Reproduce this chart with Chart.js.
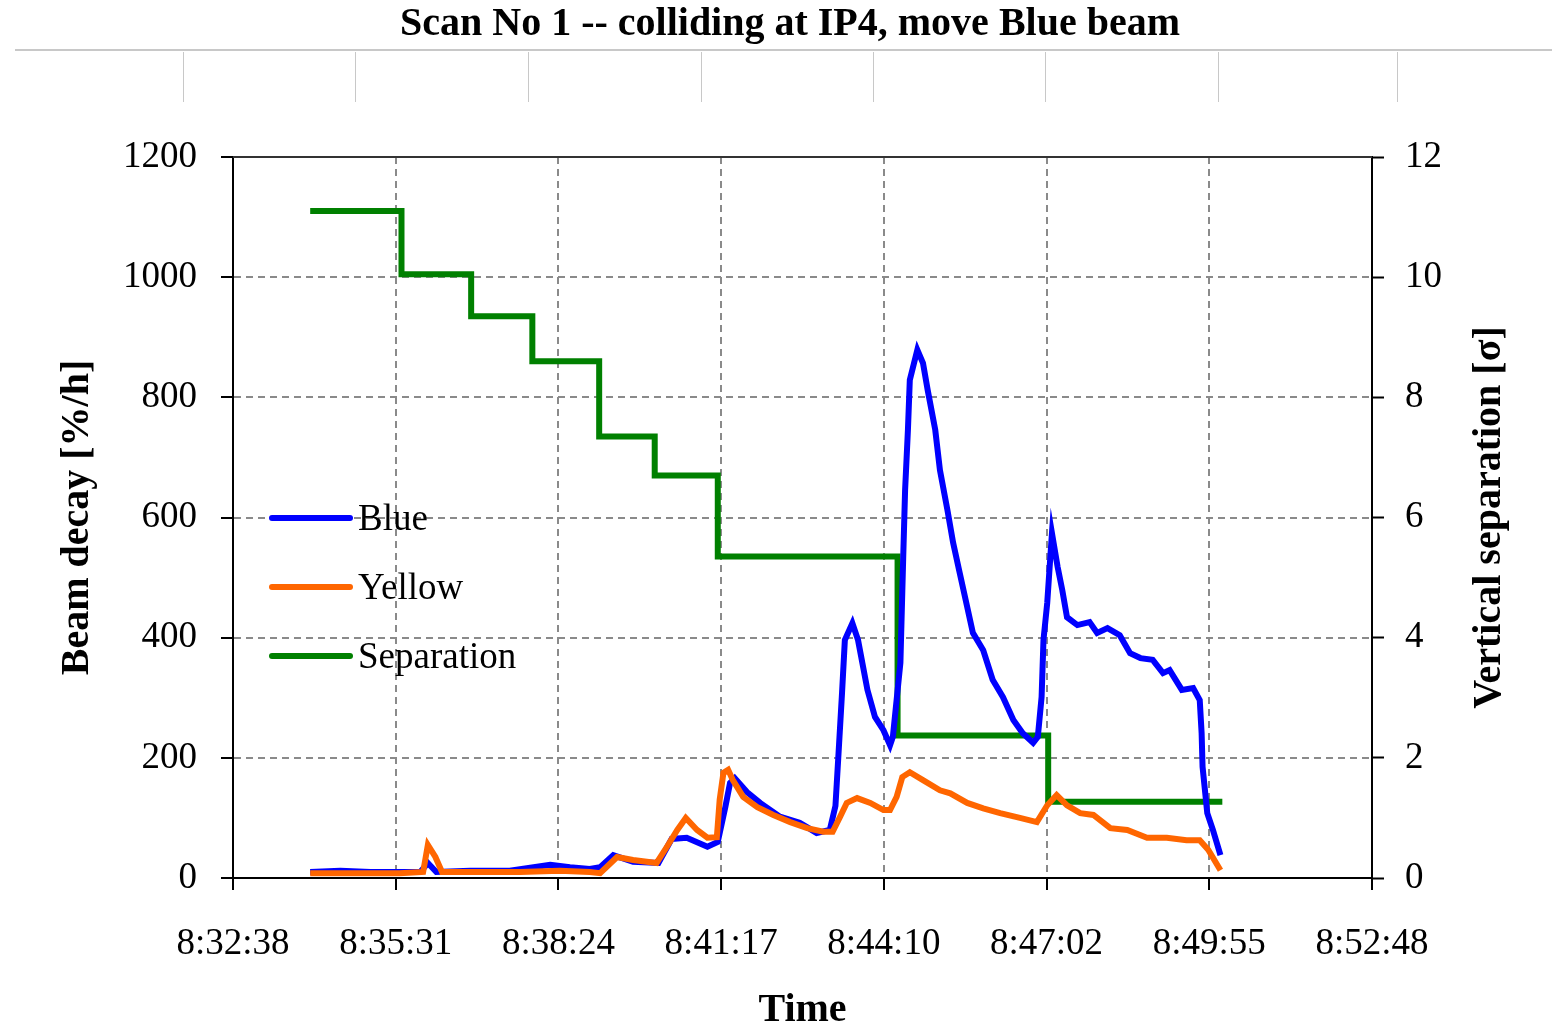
<!DOCTYPE html>
<html>
<head>
<meta charset="utf-8">
<title>Scan No 1 -- colliding at IP4, move Blue beam</title>
<script src="https://cdn.jsdelivr.net/npm/chart.js@4/dist/chart.umd.min.js"></script>
<style>
    html, body { margin: 0; padding: 0; background: #fff; }
    #wrap { width: 1552px; height: 1027px; }
</style>
</head>
<body>
<div id="wrap"><canvas id="scanChart" width="1552" height="1027"></canvas></div>
<script>
// time axis: seconds after 8:32:38
const timeSpan = 1210;
const timeLabels = ['8:32:38', '8:35:31', '8:38:24', '8:41:17', '8:44:10', '8:47:02', '8:49:55', '8:52:48'];

const blueTime = [82, 114, 146, 177, 199, 207, 216, 252, 294, 337, 358, 379, 390, 404, 425, 452, 466, 482, 504, 515,
    523, 528, 533, 546, 560, 581, 602, 620, 634, 640, 643, 647, 650, 658, 664, 674, 682, 691, 698, 701,
    709, 712, 714, 717, 719, 727, 733, 738, 746, 751, 759, 765, 772, 780, 786, 797, 807, 818, 829, 839,
    850, 855, 859, 861, 865, 870, 876, 881, 886, 897, 910, 918, 929, 942, 953, 964, 977, 988, 995, 1008,
    1020, 1027, 1029, 1030, 1035, 1041, 1049];
const blueDecay = [10, 12, 10, 10, 10, 25, 10, 12, 12, 22, 18, 15, 18, 38, 27, 25, 65, 67, 52, 60,
    118, 158, 166, 143, 125, 102, 92, 75, 80, 120, 200, 308, 396, 424, 396, 313, 268, 246, 221, 235,
    358, 534, 646, 746, 829, 879, 857, 812, 746, 679, 612, 558, 508, 451, 408, 379, 330, 301, 263, 241,
    225, 235, 301, 396, 458, 574, 518, 479, 434, 421, 426, 408, 416, 404, 374, 366, 363, 341, 346, 313,
    316, 296, 241, 185, 108, 80, 38];

const yellowTime = [82, 135, 177, 202, 207, 215, 222, 262, 305, 347, 379, 390, 408, 425, 450, 461, 472, 481, 493, 504,
    514, 517, 521, 526, 531, 542, 557, 574, 592, 610, 627, 637, 645, 652, 663, 677, 691, 698, 705, 711,
    719, 733, 751, 762, 780, 797, 815, 836, 854, 865, 875, 886, 900, 914, 932, 950, 971, 992, 1013, 1027,
    1036, 1049];
const yellowDecay = [8, 8, 8, 10, 55, 35, 10, 10, 10, 12, 10, 8, 35, 30, 25, 52, 80, 100, 80, 67,
    68, 130, 175, 180, 163, 135, 118, 105, 93, 83, 77, 77, 102, 125, 133, 125, 113, 113, 135, 168,
    176, 163, 146, 141, 125, 116, 108, 100, 93, 121, 138, 121, 108, 105, 83, 80, 67, 67, 63, 63,
    47, 13];

const sepTime = [82, 179, 253, 318, 389, 448, 515, 706, 866, 1051];
const sepValue = [11.1, 10.05, 9.35, 8.6, 7.35, 6.7, 5.35, 2.37, 1.27, 1.27];

const serif = '"Liberation Serif", "Times New Roman", serif';
const rightTitle = 'Vertical separation [σ]';

function toPoints(xs, ys) {
    return xs.map((x, i) => ({ x: x, y: ys[i] }));
}

// grey strip under the title, as in the original sheet
const headerStrip = {
    id: 'headerStrip',
    beforeDraw(chart) {
        const ctx = chart.ctx;
        ctx.save();
        ctx.strokeStyle = '#c8c8c8';
        ctx.lineWidth = 2;
        ctx.beginPath();
        ctx.moveTo(15, 50);
        ctx.lineTo(1552, 50);
        ctx.stroke();
        ctx.lineWidth = 1;
        [183, 355, 528, 701, 873, 1045, 1218, 1397].forEach(x => {
            ctx.beginPath();
            ctx.moveTo(x + 0.5, 52);
            ctx.lineTo(x + 0.5, 102);
            ctx.stroke();
        });
        ctx.restore();
    }
};

// solid top edge of the plot frame + right axis title (reads bottom to top like the left one)
const frameExtras = {
    id: 'frameExtras',
    beforeDatasetsDraw(chart) {
        const a = chart.chartArea;
        const ctx = chart.ctx;
        ctx.save();
        ctx.strokeStyle = '#333';
        ctx.lineWidth = 2;
        ctx.beginPath();
        ctx.moveTo(a.left, a.top);
        ctx.lineTo(a.right, a.top);
        ctx.stroke();

        ctx.translate(1490, (a.top + a.bottom) / 2);
        ctx.rotate(-Math.PI / 2);
        ctx.font = 'bold 40px ' + serif;
        ctx.fillStyle = '#000';
        ctx.textAlign = 'center';
        ctx.textBaseline = 'middle';
        ctx.fillText(rightTitle, 0, 0);
        ctx.restore();
    }
};

// legend drawn inside the plot, left side
const insideLegend = {
    id: 'insideLegend',
    afterDatasetsDraw(chart) {
        const ctx = chart.ctx;
        const a = chart.chartArea;
        const x0 = a.left + 39;
        ctx.save();
        ctx.font = '37px ' + serif;
        ctx.textBaseline = 'middle';
        ctx.fillStyle = '#000';
        chart.data.datasets.forEach((ds, i) => {
            const y = 518 + i * 69;
            ctx.strokeStyle = ds.borderColor;
            ctx.lineWidth = 6;
            ctx.lineCap = 'round';
            ctx.beginPath();
            ctx.moveTo(x0, y);
            ctx.lineTo(x0 + 78, y);
            ctx.stroke();
            ctx.fillText(ds.label, x0 + 86, y + 2);
        });
        ctx.restore();
    }
};

const ctx = document.getElementById('scanChart').getContext('2d');
const scanChart = new Chart(ctx, {
    type: 'line',
    data: {
        datasets: [{
            label: 'Blue',
            data: toPoints(blueTime, blueDecay),
            borderColor: '#0000ff',
            borderWidth: 6,
            yAxisID: 'y',
            order: 1
        }, {
            label: 'Yellow',
            data: toPoints(yellowTime, yellowDecay),
            borderColor: '#ff6600',
            borderWidth: 6,
            yAxisID: 'y',
            order: 0
        }, {
            label: 'Separation',
            data: toPoints(sepTime, sepValue),
            borderColor: '#008000',
            borderWidth: 6,
            stepped: true,
            yAxisID: 'y2',
            order: 2
        }]
    },
    options: {
        responsive: false,
        animation: false,
        layout: { padding: { left: 28, right: 0, top: 0, bottom: 0 } },
        elements: { point: { radius: 0 }, line: { tension: 0, fill: false } },
        plugins: {
            legend: { display: false },
            tooltip: { enabled: false },
            title: {
                display: true,
                text: 'Scan No 1 -- colliding at IP4, move Blue beam',
                color: '#000',
                font: { family: serif, size: 40, weight: 'bold' },
                padding: { top: 1, bottom: 108 }
            }
        },
        scales: {
            x: {
                type: 'linear',
                min: 0,
                max: timeSpan,
                afterBuildTicks: function (scale) {
                    scale.ticks = timeLabels.map((l, i) => ({ value: i * timeSpan / (timeLabels.length - 1) }));
                },
                afterFit: function (scale) { scale.height = 149; },
                ticks: {
                    color: '#000',
                    font: { family: serif, size: 37 },
                    padding: 32,
                    maxRotation: 0,
                    autoSkip: false,
                    callback: (value, index) => timeLabels[index]
                },
                grid: { color: '#8a8a8a', lineWidth: 2, tickLength: 12, tickColor: '#000', tickWidth: 2 },
                border: { display: true, color: '#000', width: 2, dash: [7, 5] },
                title: {
                    display: true,
                    text: 'Time',
                    color: '#000',
                    font: { family: serif, size: 40, weight: 'bold', lineHeight: 1 },
                    padding: { top: 0, bottom: -4 }
                }
            },
            y: {
                position: 'left',
                min: 0,
                max: 1200,
                afterFit: function (scale) { scale.width = 205; },
                ticks: {
                    stepSize: 200,
                    color: '#000',
                    font: { family: serif, size: 37 },
                    padding: 24,
                    callback: value => String(value)
                },
                grid: { color: '#8a8a8a', lineWidth: 2, tickLength: 12, tickColor: '#000', tickWidth: 2 },
                border: { display: true, color: '#000', width: 2, dash: [7, 5] },
                title: {
                    display: true,
                    text: 'Beam decay [%/h]',
                    color: '#000',
                    font: { family: serif, size: 40, weight: 'bold' },
                    padding: { top: 26, bottom: 0 }
                }
            },
            y2: {
                position: 'right',
                min: 0,
                max: 12,
                afterFit: function (scale) { scale.width = 180; },
                ticks: {
                    stepSize: 2,
                    color: '#000',
                    font: { family: serif, size: 37 },
                    padding: 21,
                    callback: value => String(value)
                },
                grid: { drawOnChartArea: false, tickLength: 12, tickColor: '#000', tickWidth: 2 },
                border: { display: true, color: '#000', width: 2 }
            }
        }
    },
    plugins: [headerStrip, frameExtras, insideLegend]
});
</script>
</body>
</html>
